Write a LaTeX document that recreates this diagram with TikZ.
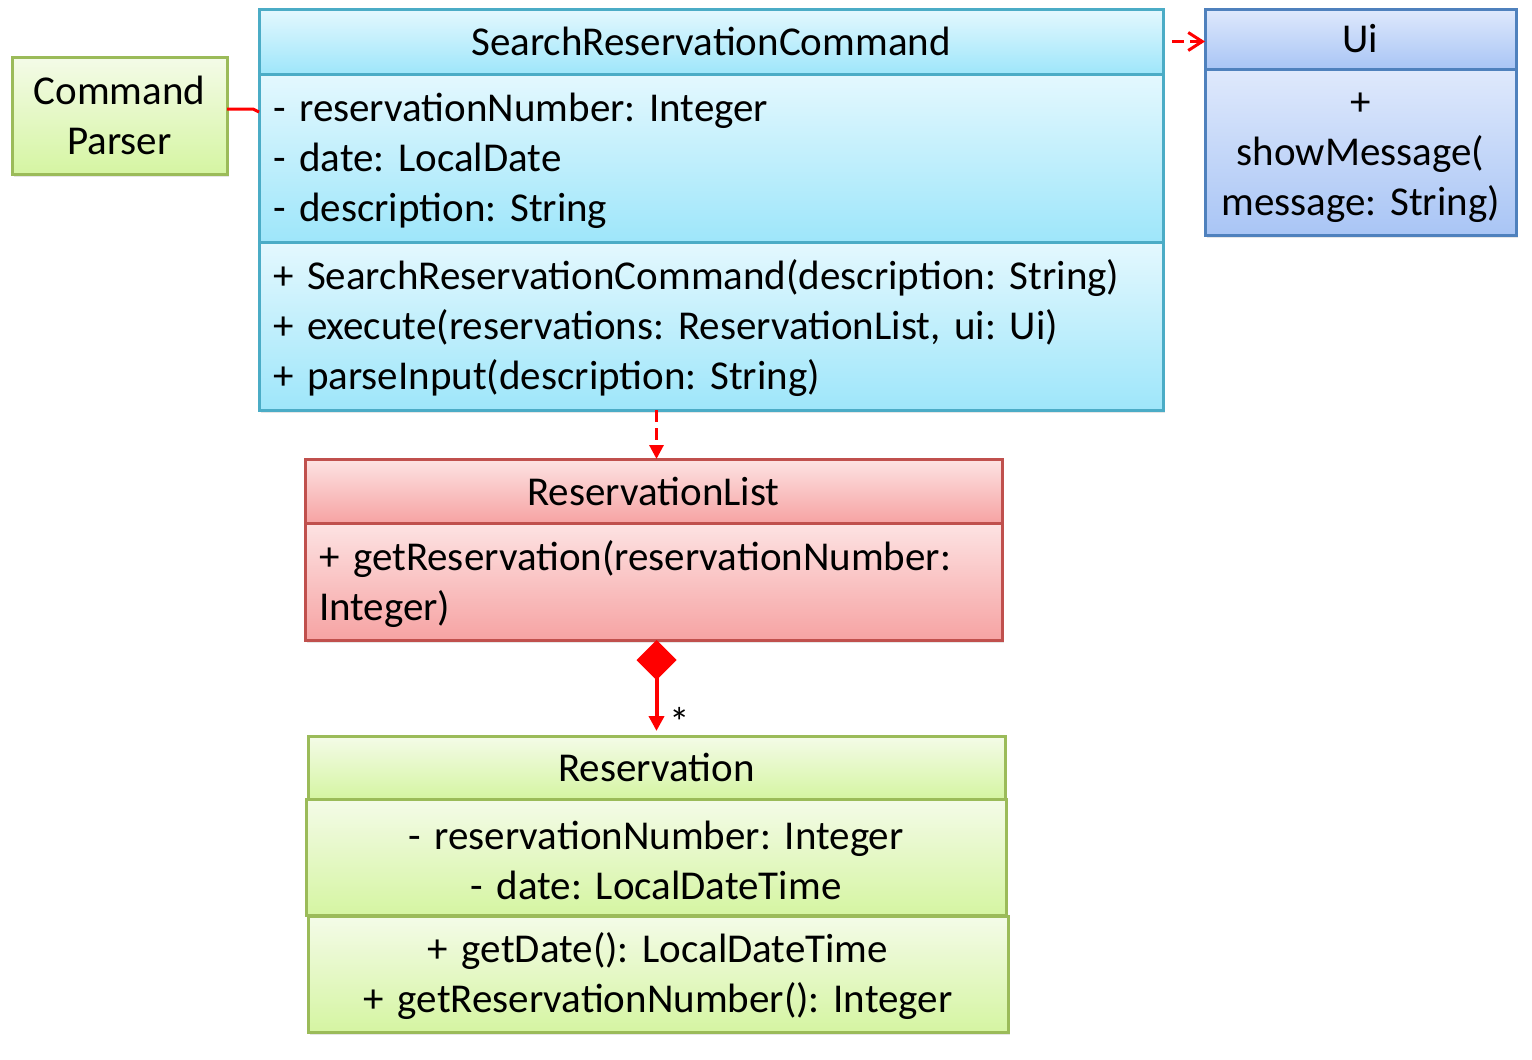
\documentclass[tikz,border=0pt]{standalone}
\usepackage{fontspec}
\setmainfont{Carlito}
\usetikzlibrary{arrows.meta,shadows}
\frenchspacing

\definecolor{srcline}{HTML}{4BACC6}
\definecolor{srctop}{HTML}{E4F8FE}
\definecolor{srcbot}{HTML}{9EE6FA}
\definecolor{uiline}{HTML}{4F81BD}
\definecolor{uitop}{HTML}{DFE9FC}
\definecolor{uibot}{HTML}{A9C5F5}
\definecolor{rlline}{HTML}{C0504D}
\definecolor{rltop}{HTML}{FDE3E3}
\definecolor{rlbot}{HTML}{F6A3A3}
\definecolor{rsline}{HTML}{9BBB59}
\definecolor{rstop}{HTML}{F4FBE8}
\definecolor{rsbot}{HTML}{D5F5A2}

\tikzset{
  part/.style={draw, line width=1.5pt, anchor=north west, outer sep=0pt,
    inner xsep=7pt, inner ysep=0pt, font=\fontsize{20.5}{25}\selectfont,
    drop shadow={opacity=0.2, shadow xshift=1pt, shadow yshift=-1.5pt}},
  lines/.style={execute at begin node=\strut},
  cyanpart/.style={part, draw=srcline, top color=srctop, bottom color=srcbot},
  bluepart/.style={part, draw=uiline, top color=uitop, bottom color=uibot},
  redpart/.style={part, draw=rlline, top color=rltop, bottom color=rlbot},
  greenpart/.style={part, draw=rsline, top color=rstop, bottom color=rsbot},
  link/.style={red, line width=1.5pt},
}

\begin{document}
\begin{tikzpicture}[x=0.5pt, y=-0.5pt]
  \useasboundingbox (0,0) rectangle (1532,1060);

  % command parser
  \node [greenpart, minimum width=107.5pt, minimum height=58.5pt, align=center] (cp) at (12,57) {Command\\Parser};

  % search reservation command
  \node [cyanpart, minimum width=452pt, minimum height=32.5pt] (srchead) at (259,9) {SearchReservationCommand};
  \node [cyanpart, lines, minimum width=452pt, minimum height=84pt, text width=438pt, align=left] (srcattr) at (259,74)
    {- reservationNumber: Integer\\- date: LocalDate\\- description: String};
  \node [cyanpart, lines, minimum width=452pt, minimum height=84pt, text width=438pt, align=left] (srcmeth) at (259,242)
    {+ SearchReservationCommand(description: String)\\+ execute(reservations: ReservationList, ui: Ui)\\+ parseInput(description: String)};

  % ui
  \node [bluepart, minimum width=155.5pt, minimum height=30pt] (uihead) at (1205,9) {Ui};
  \node [bluepart, lines, minimum width=155.5pt, minimum height=83pt, inner xsep=2pt, text width=151.5pt, align=center] (uimeth) at (1205,69)
    {+\\showMessage(\\message: String)};

  % reservation list
  \node [redpart, minimum width=348.5pt, minimum height=32pt] (rlhead) at (305,459) {ReservationList};
  \node [redpart, lines, minimum width=348.5pt, minimum height=58.5pt, text width=334.5pt, align=left] (rlmeth) at (305,523)
    {+ getReservation(reservationNumber:\\Integer)};

  % reservation
  \node [greenpart, minimum width=348.5pt, minimum height=31.5pt] (rshead) at (308,736) {Reservation};
  \node [greenpart, lines, minimum width=350pt, minimum height=58pt, text width=336pt, align=center] (rsattr) at (306,799)
    {- reservationNumber: Integer\\- date: LocalDateTime};
  \node [greenpart, lines, minimum width=350pt, minimum height=58pt, text width=336pt, align=center] (rsmeth) at (308,916)
    {+ getDate(): LocalDateTime\\+ getReservationNumber(): Integer};

  % connectors
  \draw [link] ([yshift=3.25pt]cp.east) -- ++(26,0) -- ([yshift=23pt]srcattr.west);
  \draw [link, dash pattern=on 6pt off 3pt, shorten <=4.5pt, -{Straight Barb[length=7pt,width=9pt]}]
    (srchead.east) -- (srchead.east -| uihead.west);
  \draw [link, dash pattern=on 6pt off 3pt, -{Triangle[length=7pt,width=7pt]}]
    ([xshift=1.5pt]rlhead.north |- srcmeth.south) -- ([xshift=1.5pt]rlhead.north);
  \draw [link, line width=2pt, {Diamond[length=20pt,width=20pt]}-{Triangle[length=7.5pt,width=7.5pt]}, shorten >=2.5pt]
    ([xshift=1.5pt]rlmeth.south) -- ([xshift=1.5pt]rlmeth.south |- rshead.north);
  \node [font=\fontsize{20.5}{25}\selectfont] (mult) at (680,722) {*};
\end{tikzpicture}
\end{document}
